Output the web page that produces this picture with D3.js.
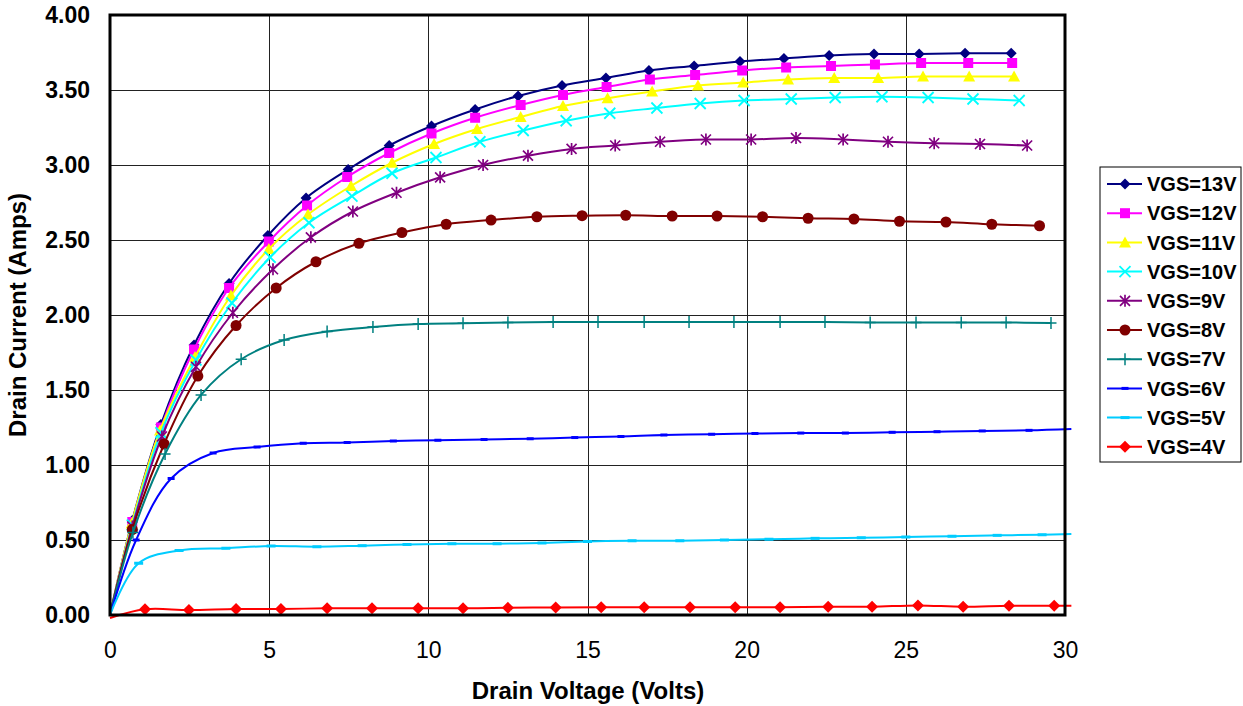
<!DOCTYPE html>
<html>
<head>
<meta charset="utf-8">
<script src="https://cdn.jsdelivr.net/npm/d3@7"></script>
<style>
  html, body { margin: 0; padding: 0; background: #fff; }
  text { font-family: "Liberation Sans", Arial, sans-serif; fill: #000; }
</style>
</head>
<body>
<svg id="chart" width="1243" height="706"></svg>
<script>
// ---- data (Drain Voltage V, Drain Current A) ----
const vd13 = [0, 0.70, 1.60, 2.64, 3.74, 4.96, 6.16, 7.48, 8.77, 10.10, 11.47, 12.82, 14.20, 15.58, 16.93, 18.35, 19.79, 21.17, 22.59, 24.00, 25.42, 26.86, 28.31];
const id13 = [0, 0.63, 1.27, 1.80, 2.21, 2.53, 2.78, 2.97, 3.13, 3.26, 3.37, 3.46, 3.53, 3.58, 3.63, 3.66, 3.69, 3.71, 3.73, 3.74, 3.74, 3.745, 3.745];

const vd12 = [0, 0.70, 1.60, 2.64, 3.74, 4.99, 6.19, 7.45, 8.77, 10.10, 11.47, 12.90, 14.23, 15.60, 16.96, 18.38, 19.86, 21.24, 22.65, 24.03, 25.48, 26.96, 28.34];
const id12 = [0, 0.62, 1.25, 1.77, 2.18, 2.49, 2.73, 2.92, 3.08, 3.21, 3.315, 3.40, 3.467, 3.52, 3.57, 3.60, 3.63, 3.65, 3.66, 3.67, 3.68, 3.68, 3.68];

const vd11 = [0, 0.68, 1.57, 2.67, 3.80, 4.99, 6.22, 7.57, 8.86, 10.18, 11.53, 12.90, 14.23, 15.63, 17.03, 18.47, 19.89, 21.30, 22.75, 24.13, 25.54, 26.99, 28.40];
const id11 = [0, 0.61, 1.23, 1.72, 2.13, 2.44, 2.67, 2.86, 3.015, 3.14, 3.24, 3.32, 3.393, 3.445, 3.49, 3.53, 3.55, 3.57, 3.58, 3.58, 3.59, 3.59, 3.59];

const vd10 = [0, 0.70, 1.60, 2.70, 3.83, 5.03, 6.25, 7.60, 8.86, 10.24, 11.62, 12.98, 14.33, 15.70, 17.18, 18.54, 19.92, 21.40, 22.78, 24.25, 25.70, 27.11, 28.56];
const id10 = [0, 0.60, 1.215, 1.70, 2.08, 2.385, 2.615, 2.793, 2.945, 3.05, 3.155, 3.23, 3.295, 3.345, 3.38, 3.41, 3.43, 3.44, 3.45, 3.455, 3.45, 3.44, 3.43];

const vd9 = [0, 0.70, 1.63, 2.70, 3.86, 5.12, 6.31, 7.63, 9.00, 10.37, 11.72, 13.13, 14.50, 15.87, 17.28, 18.72, 20.14, 21.55, 23.03, 24.44, 25.89, 27.33, 28.81];
const id9 = [0, 0.59, 1.19, 1.655, 2.015, 2.305, 2.518, 2.69, 2.815, 2.918, 3.00, 3.062, 3.107, 3.13, 3.155, 3.17, 3.17, 3.18, 3.17, 3.155, 3.145, 3.14, 3.13];

const vd8 = [0, 0.70, 1.70, 2.76, 3.96, 5.22, 6.47, 7.82, 9.17, 10.56, 11.97, 13.41, 14.83, 16.20, 17.66, 19.07, 20.50, 21.93, 23.37, 24.80, 26.26, 27.70, 29.20];
const id8 = [0, 0.57, 1.14, 1.593, 1.93, 2.18, 2.355, 2.478, 2.55, 2.605, 2.633, 2.655, 2.662, 2.665, 2.66, 2.66, 2.655, 2.645, 2.64, 2.625, 2.62, 2.605, 2.595];

const vd7 = [0, 0.72, 1.73, 2.86, 4.12, 5.47, 6.82, 8.26, 9.68, 11.09, 12.50, 13.92, 15.33, 16.78, 18.19, 19.60, 21.05, 22.46, 23.88, 25.32, 26.74, 28.15, 29.56];
const id7 = [0, 0.55, 1.073, 1.467, 1.705, 1.833, 1.89, 1.92, 1.94, 1.945, 1.95, 1.953, 1.953, 1.953, 1.953, 1.953, 1.953, 1.953, 1.95, 1.95, 1.95, 1.95, 1.947];

const vd6 = [0, 0.82, 1.92, 3.24, 4.62, 6.07, 7.45, 8.90, 10.30, 11.75, 13.20, 14.60, 16.05, 17.40, 18.90, 20.26, 21.70, 23.10, 24.57, 25.98, 27.40, 28.87, 30.20];
const id6 = [0, 0.50, 0.91, 1.08, 1.12, 1.145, 1.15, 1.16, 1.165, 1.17, 1.175, 1.183, 1.19, 1.20, 1.205, 1.21, 1.213, 1.213, 1.218, 1.222, 1.227, 1.231, 1.24];

const vd5 = [0, 0.90, 2.17, 3.64, 5.06, 6.50, 7.92, 9.33, 10.74, 12.16, 13.57, 15.00, 16.40, 17.90, 19.30, 20.70, 22.15, 23.60, 25.00, 26.45, 27.87, 29.28, 30.20];
const id5 = [0, 0.345, 0.43, 0.445, 0.46, 0.455, 0.462, 0.47, 0.475, 0.475, 0.48, 0.49, 0.495, 0.495, 0.50, 0.505, 0.511, 0.515, 0.52, 0.525, 0.531, 0.535, 0.54];

const vd4 = [0, 1.10, 2.48, 3.96, 5.37, 6.82, 8.23, 9.68, 11.09, 12.50, 14.00, 15.43, 16.78, 18.22, 19.64, 21.05, 22.56, 23.94, 25.38, 26.80, 28.24, 29.66, 30.20];
const id4 = [-0.02, 0.038, 0.033, 0.04, 0.04, 0.045, 0.045, 0.045, 0.045, 0.048, 0.05, 0.051, 0.051, 0.051, 0.051, 0.051, 0.055, 0.055, 0.064, 0.055, 0.062, 0.062, 0.062];

const seriesNames = ["VGS=13V", "VGS=12V", "VGS=11V", "VGS=10V", "VGS=9V", "VGS=8V", "VGS=7V", "VGS=6V", "VGS=5V", "VGS=4V"];
const seriesX = [vd13, vd12, vd11, vd10, vd9, vd8, vd7, vd6, vd5, vd4];
const seriesY = [id13, id12, id11, id10, id9, id8, id7, id6, id5, id4];

const xTicks = [0, 5, 10, 15, 20, 25, 30];
const yTicks = [0, 0.5, 1, 1.5, 2, 2.5, 3, 3.5, 4];

// ---- styling ----
const colors = ["#000080", "#FF00FF", "#FFFF00", "#00FFFF", "#800080", "#800000", "#008080", "#0000FF", "#00CCFF", "#FF0000"];
const markers = ["diamond", "square", "triangle", "x", "star", "circle", "plus", "dashS", "dashL", "diamondL"];

const margin = { left: 110, right: 178, top: 15, bottom: 91 };
const W = 1243, H = 706;

const svg = d3.select("#chart");

const x = d3.scaleLinear().domain([0, 30]).range([margin.left, W - margin.right]);
const y = d3.scaleLinear().domain([0, 4]).range([H - margin.bottom, margin.top]);

// gridlines
svg.append("g")
  .attr("transform", `translate(0,${y(0)})`)
  .call(d3.axisBottom(x).tickValues(xTicks.slice(1, -1)).tickSize(-(y(0) - y(4))).tickFormat(""))
  .call((g) => g.select(".domain").remove())
  .call((g) => g.selectAll(".tick line").attr("stroke", "#222").attr("shape-rendering", "crispEdges"));

svg.append("g")
  .attr("transform", `translate(${x(0)},0)`)
  .call(d3.axisLeft(y).tickValues(yTicks.slice(1, -1)).tickSize(-(x(30) - x(0))).tickFormat(""))
  .call((g) => g.select(".domain").remove())
  .call((g) => g.selectAll(".tick line").attr("stroke", "#222").attr("shape-rendering", "crispEdges"));

// tick labels
svg.append("g")
  .attr("transform", `translate(${x(0)},0)`)
  .call(d3.axisLeft(y).tickValues(yTicks).tickSize(0).tickPadding(20).tickFormat(d3.format(".2f")))
  .call((g) => g.select(".domain").remove())
  .call((g) => g.selectAll(".tick text").style("font-size", "23px").style("font-weight", "bold").attr("fill", "#000"));

svg.append("g")
  .attr("transform", `translate(0,${y(0)})`)
  .call(d3.axisBottom(x).tickValues(xTicks).tickSize(0).tickPadding(27).tickFormat(d3.format("d")))
  .call((g) => g.select(".domain").remove())
  .call((g) => g.selectAll(".tick text").style("font-size", "23px").attr("fill", "#000"));

// marker shapes (drawn centred at 0,0)
function drawMarker(g, type, color) {
  switch (type) {
    case "diamond":
      g.append("path").attr("d", "M0,-5.5L5.5,0L0,5.5L-5.5,0Z").attr("fill", color);
      break;
    case "diamondL":
      g.append("path").attr("d", "M0,-6L6,0L0,6L-6,0Z").attr("fill", color);
      break;
    case "square":
      g.append("rect").attr("x", -5).attr("y", -5).attr("width", 10).attr("height", 10).attr("fill", color);
      break;
    case "triangle":
      g.append("path").attr("d", "M0,-6L6,5L-6,5Z").attr("fill", color);
      break;
    case "circle":
      g.append("circle").attr("r", 5.5).attr("fill", color);
      break;
    case "x":
      g.append("path").attr("d", "M-5.5,-5.5L5.5,5.5M-5.5,5.5L5.5,-5.5").attr("stroke", color).attr("stroke-width", 1.8).attr("fill", "none");
      break;
    case "star":
      g.append("path").attr("d", "M-5,-5L5,5M-5,5L5,-5M0,-6L0,6").attr("stroke", color).attr("stroke-width", 1.7).attr("fill", "none");
      break;
    case "plus":
      g.append("path").attr("d", "M-5.5,0L5.5,0M0,-6L0,6").attr("stroke", color).attr("stroke-width", 1.5).attr("fill", "none");
      break;
    case "dashS":
      g.append("rect").attr("x", -3.5).attr("y", -1.5).attr("width", 7).attr("height", 3).attr("fill", color);
      break;
    case "dashL":
      g.append("rect").attr("x", -4.5).attr("y", -1.5).attr("width", 9).attr("height", 3).attr("fill", color);
      break;
  }
}

const line = d3.line()
  .x((d) => x(d[0]))
  .y((d) => y(d[1]))
  .curve(d3.curveCatmullRom.alpha(0.5));

// series
seriesNames.forEach((name, i) => {
  const pts = seriesX[i].map((v, j) => [v, seriesY[i][j]]);
  const g = svg.append("g").attr("class", "series");

  g.append("path")
    .datum(pts)
    .attr("d", line)
    .attr("fill", "none")
    .attr("stroke", colors[i])
    .attr("stroke-width", 2);

  g.selectAll("g.pt")
    .data(pts.filter((d) => d[0] > 0 && d[0] <= 30))
    .join("g")
    .attr("class", "pt")
    .attr("transform", (d) => `translate(${x(d[0])},${y(d[1])})`)
    .each(function () { drawMarker(d3.select(this), markers[i], colors[i]); });
});

// plot frame
svg.append("rect")
  .attr("x", x(0)).attr("y", y(4))
  .attr("width", x(30) - x(0)).attr("height", y(0) - y(4))
  .attr("fill", "none").attr("stroke", "#000").attr("stroke-width", 3);

// axis titles
svg.append("text")
  .attr("x", (x(0) + x(30)) / 2 + 0.5).attr("y", 699)
  .attr("text-anchor", "middle")
  .style("font-size", "24px").style("font-weight", "bold")
  .text("Drain Voltage (Volts)");

svg.append("text")
  .attr("transform", `translate(26,${(y(0) + y(4)) / 2}) rotate(-90)`)
  .attr("text-anchor", "middle")
  .style("font-size", "24px").style("font-weight", "bold")
  .text("Drain Current (Amps)");

// legend
const legend = svg.append("g").attr("transform", "translate(1100,167)");
legend.append("rect")
  .attr("width", 141).attr("height", 295)
  .attr("fill", "#fff").attr("stroke", "#000").attr("stroke-width", 1);

seriesNames.forEach((name, i) => {
  const row = legend.append("g").attr("transform", `translate(0,${17 + i * 29.2})`);
  row.append("line").attr("x1", 7).attr("x2", 42).attr("stroke", colors[i]).attr("stroke-width", 2);
  drawMarker(row.append("g").attr("transform", "translate(25,0)"), markers[i], colors[i]);
  row.append("text")
    .attr("x", 47).attr("dy", "0.36em")
    .style("font-size", "20px").style("font-weight", "bold")
    .text(name);
});
</script>
</body>
</html>
